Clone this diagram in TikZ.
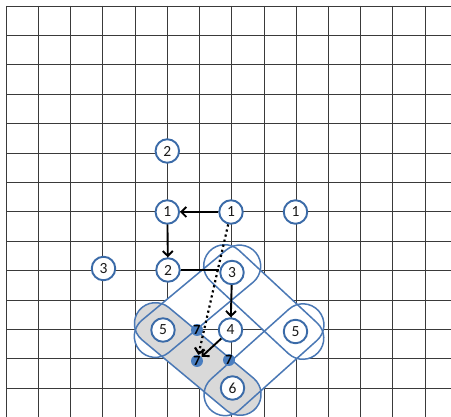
\documentclass[tikz,border=0pt]{standalone}
\usepackage{fontspec}
\setmainfont{Carlito}
\usetikzlibrary{arrows.meta,calc,shapes.misc}
\definecolor{gridc}{HTML}{3A3A3A}
\definecolor{blueline}{HTML}{4A78B5}
\definecolor{bluering}{HTML}{3B6BA8}
\definecolor{bluedot}{HTML}{4A7EC0}
\definecolor{greyfill}{HTML}{D9D9D9}
\definecolor{txt}{HTML}{1A1A1A}
\newcommand\stadfill[3]{%
  \path let \p1=(#1), \p2=(#2), \n1={atan2(\y2-\y1,\x2-\x1)}, \n2={veclen(\x2-\x1,\y2-\y1)} in
    node[stadbase,#3,rotate=\n1,minimum width={\n2+62}] at ($(#1)!0.5!(#2)$) {};}
\begin{document}
\begin{tikzpicture}[x=1pt,y=-1pt,
  gridline/.style={draw=gridc,line width=1.8pt},
  stadbase/.style={rounded rectangle,inner sep=0pt,minimum height=42pt,line width=1.5pt},
  sfill/.style={draw=none,fill=white},
  sgrey/.style={draw=none,fill=greyfill},
  sline/.style={draw=blueline,fill=none},
  num/.style={circle,draw=bluering,line width=1.9pt,fill=white,text=txt,inner sep=0pt,minimum size=23.5pt,font=\fontsize{15.5}{15.5}\selectfont},
  smalldot/.style={circle,fill=bluedot,inner sep=0pt,minimum size=12pt,text=black,font=\fontsize{14}{14}\selectfont\bfseries},
  arr/.style={draw=black,line width=1.9pt,-{Straight Barb[length=5pt,width=10pt]}},
  dotarr/.style={draw=black,line width=2.2pt,dash pattern=on 2.2pt off 3pt,-{Straight Barb[length=5pt,width=10pt]}}]
\useasboundingbox (0,0) rectangle (451,417);
\fill[white] (0,0) rectangle (451,417);
% grid
\foreach \gx in {6.5,38.5,70.5,102.5,135.5,167.5,199.5,231.5,264.5,296.5,328.5,360.5,392.5,425.5} {\draw[gridline] (\gx,6) -- (\gx,417);}
\foreach \gy in {6.5,35.5,64.5,94.5,123.5,153.5,182.5,211.5,241.5,270.5,300.5,329.5,358.5,388.5} {\draw[gridline] (6,\gy) -- (451,\gy);}
% node positions
\coordinate (P3) at (232,272.5);
\coordinate (P5l) at (163,330);
\coordinate (P5r) at (295.5,331.5);
\coordinate (P6) at (232.5,388);
% stadium fills
\stadfill{P3}{P5l}{sfill}
\stadfill{P3}{P5r}{sfill}
\stadfill{P5r}{P6}{sfill}
\stadfill{P5l}{P6}{sgrey}
% stadium outlines
\stadfill{P3}{P5l}{sline}
\stadfill{P3}{P5r}{sline}
\stadfill{P5r}{P6}{sline}
\stadfill{P5l}{P6}{sline}
% nodes
\node[num] (t2) at (167.3,151) {2};
\node[num] (a1) at (167.3,212) {1};
\node[num] (b1) at (231,212) {1};
\node[num] (c1) at (295.5,212) {1};
\node[num] (l3) at (103.5,268.5) {3};
\node[num] (m2) at (168,270) {2};
\node[num] (n3) at (P3) {3};
\node[num] (n4) at (230.5,330) {4};
\node[num] (l5) at (P5l) {5};
\node[num] (r5) at (P5r) {5};
\node[num] (n6) at (P6) {6};
\node[smalldot] (d7a) at (197,330) {7};
\node[smalldot] (d7b) at (197,361) {7};
\node[smalldot] (d7c) at (229,360) {7};
% connectors
\draw[arr] (b1) -- (a1);
\draw[arr] (a1) -- (m2);
\draw[draw=black,line width=1.9pt] (m2.east) -- (m2.east -| n3.west);
\draw[arr] (n3) -- (n4);
\draw[arr] (n4) -- (d7b);
\draw[dotarr] (b1) -- (d7b);
\end{tikzpicture}
\end{document}
